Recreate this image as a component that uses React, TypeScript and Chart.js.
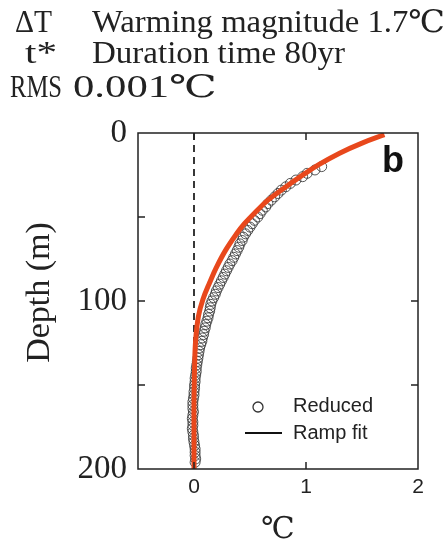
import React, { useEffect, useRef, useMemo } from 'react';
import { Chart, registerables } from 'chart.js';

Chart.register(...registerables);

// Ramp fit curve (temperature anomaly °C vs depth m)
const fitDepth = [1, 6, 12, 19, 26, 33, 40, 47, 54, 60, 70, 80, 89, 99, 109, 123, 140, 160, 180, 200];
const fitTemp = [1.7, 1.5, 1.3, 1.11, 0.95, 0.8, 0.66, 0.55, 0.45, 0.38, 0.28, 0.2, 0.14, 0.08, 0.04, 0.015, 0.005, 0.0, 0.0, 0.0];

// Reduced temperature profile (circles)
const reducedDepth = [
  20, 22, 24, 26, 28, 30, 32, 34, 36, 38, 40, 42, 44, 46, 48, 50, 52, 54, 56, 58,
  60, 62, 64, 66, 68, 70, 72, 74, 76, 78, 80, 82, 84, 86, 88, 90, 92, 94, 96, 98,
  100, 102, 104, 106, 108, 110, 112, 114, 116, 118, 120, 122, 124, 126, 128, 130, 132, 134, 136, 138,
  140, 142, 144, 146, 148, 150, 152, 154, 156, 158, 160, 162, 164, 166, 168, 170, 172, 174, 176, 178,
  180, 182, 184, 186, 188, 190, 192, 194, 196,
];
const reducedTemp = [
  1.14, 1.08, 1.01, 0.97, 0.91, 0.86, 0.82, 0.78, 0.75, 0.72, 0.69, 0.66, 0.64, 0.61, 0.59, 0.57, 0.54, 0.52, 0.5, 0.48,
  0.46, 0.44, 0.43, 0.41, 0.4, 0.385, 0.37, 0.355, 0.34, 0.32, 0.305, 0.29, 0.275, 0.26, 0.245, 0.23, 0.215, 0.2, 0.19, 0.175,
  0.16, 0.15, 0.145, 0.14, 0.13, 0.125, 0.115, 0.105, 0.1, 0.09, 0.085, 0.075, 0.07, 0.06, 0.05, 0.045, 0.04, 0.035, 0.03, 0.025,
  0.02, 0.02, 0.015, 0.01, 0.01, 0.005, 0.005, 0.0, 0.0, -0.005, -0.01, -0.01, -0.01, -0.005, -0.01, -0.015, -0.01, -0.01, -0.015, -0.01,
  -0.005, -0.005, 0.0, 0.005, 0.01, 0.01, 0.01, 0.015, 0.01,
];

const yTickValues = [0, 100, 200];
const xTickValues = [0, 1, 2];
const leftMinorTicks = [50, 100, 150];
const rightMinorTicks = [100, 150];
const topMinorTicks = [0, 1];
const bottomMinorTicks = [0, 1];

const headerSegments = [
  { text: 'ΔT', left: 15, width: 37, top: 6 },
  { text: 'Warming magnitude 1.7℃', left: 92, width: 353, top: 6 },
  { text: 't*', left: 25, width: 32, top: 37 },
  { text: 'Duration time 80yr', left: 92, width: 253, top: 37 },
  { text: 'RMS', left: 10, width: 52, top: 71 },
  { text: '0.001℃', left: 73, width: 144, top: 71 },
];

const SERIF = "'Liberation Serif', 'DejaVu Serif', serif";
const SANS = "'Liberation Sans', Arial, sans-serif";
const INK = '#222';
const RED = '#E8481C';
const HEADER_SIZE = 31;

const decorPlugin = {
  id: 'decor',
  beforeDatasetsDraw(chart: any) {
    const { ctx, chartArea: a, scales } = chart;
    const x = scales.x;
    ctx.save();
    ctx.strokeStyle = INK;
    ctx.lineWidth = 1.8;
    ctx.setLineDash([7, 5]);
    const px = x.getPixelForValue(0);
    ctx.beginPath();
    ctx.moveTo(px, a.top);
    ctx.lineTo(px, a.bottom);
    ctx.stroke();
    ctx.restore();
  },
  afterDraw(chart: any) {
    const { ctx, chartArea: a, scales } = chart;
    const x = scales.x;
    const y = scales.y;
    ctx.save();
    ctx.strokeStyle = INK;
    ctx.lineWidth = 1.5;
    ctx.setLineDash([]);
    ctx.strokeRect(a.left, a.top, a.right - a.left, a.bottom - a.top);
    const tl = 7;
    ctx.beginPath();
    leftMinorTicks.forEach((v) => {
      const py = y.getPixelForValue(v);
      ctx.moveTo(a.left, py);
      ctx.lineTo(a.left + tl, py);
    });
    rightMinorTicks.forEach((v) => {
      const py = y.getPixelForValue(v);
      ctx.moveTo(a.right, py);
      ctx.lineTo(a.right - tl, py);
    });
    topMinorTicks.forEach((v) => {
      const px = x.getPixelForValue(v);
      ctx.moveTo(px, a.top);
      ctx.lineTo(px, a.top + tl);
    });
    bottomMinorTicks.forEach((v) => {
      const px = x.getPixelForValue(v);
      ctx.moveTo(px, a.bottom);
      ctx.lineTo(px, a.bottom - tl);
    });
    ctx.stroke();

    // panel label
    ctx.fillStyle = '#111';
    ctx.font = `bold 36px ${SANS}`;
    ctx.textAlign = 'left';
    ctx.textBaseline = 'alphabetic';
    ctx.fillText('b', a.left + 244, a.top + 39);

    // legend
    const lx = a.left + 120;
    const ly1 = a.top + 274;
    const ly2 = a.top + 300;
    ctx.lineWidth = 1.3;
    ctx.strokeStyle = '#333';
    ctx.beginPath();
    ctx.arc(lx, ly1, 5, 0, Math.PI * 2);
    ctx.stroke();
    ctx.lineWidth = 2;
    ctx.strokeStyle = '#111';
    ctx.beginPath();
    ctx.moveTo(a.left + 107, ly2);
    ctx.lineTo(a.left + 144, ly2);
    ctx.stroke();
    ctx.fillStyle = INK;
    ctx.font = `20px ${SANS}`;
    ctx.textBaseline = 'middle';
    ctx.fillText('Reduced', a.left + 155, ly1 - 1);
    ctx.fillText('Ramp fit', a.left + 155, ly2);
    ctx.restore();
  },
};

function ProfileChart() {
  const ref = useRef<HTMLCanvasElement | null>(null);
  useEffect(() => {
    if (!ref.current) return;
    const reduced = reducedDepth.map((d, i) => ({ x: reducedTemp[i], y: d }));
    const fit = fitDepth.map((d, i) => ({ x: fitTemp[i], y: d }));
    const chart = new Chart(ref.current, {
      type: 'scatter',
      data: {
        datasets: [
          {
            label: 'Ramp fit',
            data: fit,
            showLine: true,
            borderColor: RED,
            borderWidth: 5,
            pointRadius: 0,
            tension: 0.4,
            order: 0,
          } as any,
          {
            label: 'Reduced',
            data: reduced,
            showLine: false,
            pointStyle: 'circle',
            pointRadius: 5,
            pointBorderWidth: 1,
            pointBorderColor: 'rgba(55,55,55,0.85)',
            pointBackgroundColor: 'rgba(255,255,255,0)',
            order: 1,
          },
        ],
      },
      options: {
        responsive: false,
        animation: false,
        layout: { padding: { top: 133, right: 30, left: 0, bottom: 0 } },
        plugins: { legend: { display: false }, tooltip: { enabled: false } },
        scales: {
          x: {
            type: 'linear',
            min: -0.5,
            max: 2,
            grid: { display: false, drawTicks: false },
            border: { display: false },
            afterBuildTicks: (s: any) => {
              s.ticks = xTickValues.map((v) => ({ value: v }));
            },
            afterFit: (s: any) => {
              s.height = 74;
            },
            ticks: {
              color: INK,
              padding: 6,
              font: { family: SANS, size: 21 },
              callback: (v: any) => String(v),
            },
            title: {
              display: true,
              text: '℃',
              color: INK,
              font: { family: SERIF, size: 30, lineHeight: 1 },
              padding: { top: 0, bottom: -2 },
            },
          },
          y: {
            type: 'linear',
            reverse: true,
            min: 0,
            max: 200,
            grid: { display: false, drawTicks: false },
            border: { display: false },
            afterBuildTicks: (s: any) => {
              s.ticks = yTickValues.map((v) => ({ value: v }));
            },
            afterFit: (s: any) => {
              s.width = 138;
            },
            ticks: {
              color: INK,
              padding: 11,
              font: { family: SERIF, size: 33 },
              callback: (v: any) => String(v),
            },
            title: {
              display: true,
              text: '  Depth (m)',
              color: INK,
              font: { family: SERIF, size: 34, lineHeight: 1.2 },
              padding: { top: 20, bottom: 0 },
            },
          },
        },
      },
      plugins: [decorPlugin],
    });
    return () => chart.destroy();
  }, []);
  return <canvas ref={ref} width={448} height={543} style={{ position: 'absolute', left: 0, top: 0 }} />;
}

function Header() {
  const scales = useMemo(() => {
    const c = document.createElement('canvas');
    const ctx = c.getContext('2d');
    return headerSegments.map((s) => {
      if (!ctx) return 1;
      ctx.font = `${HEADER_SIZE}px ${SERIF}`;
      const w = ctx.measureText(s.text).width;
      return w > 0 ? s.width / w : 1;
    });
  }, []);
  return (
    <>
      {headerSegments.map((s, i) => (
        <div
          key={i}
          style={{
            position: 'absolute',
            left: s.left,
            top: s.top,
            fontFamily: SERIF,
            fontSize: HEADER_SIZE,
            lineHeight: `${HEADER_SIZE}px`,
            color: INK,
            whiteSpace: 'nowrap',
            transform: `scaleX(${scales[i]})`,
            transformOrigin: 'left',
          }}
        >
          {s.text}
        </div>
      ))}
    </>
  );
}

export default function App() {
  return (
    <div style={{ position: 'absolute', left: 0, top: 0, width: 448, height: 543, background: '#fff', overflow: 'hidden' }}>
      <ProfileChart />
      <Header />
    </div>
  );
}
